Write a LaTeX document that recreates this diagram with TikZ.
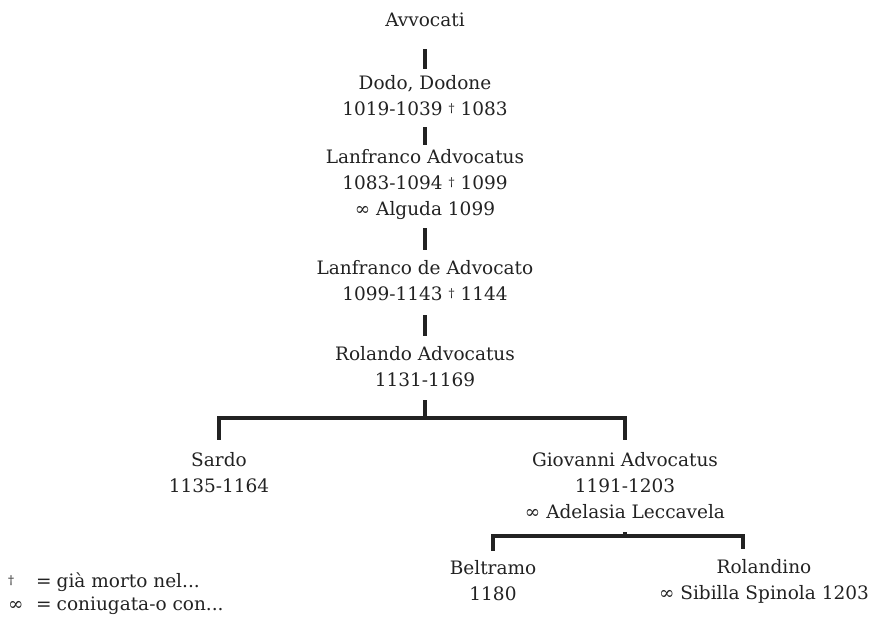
\documentclass[tikz,border=0pt]{standalone}
\usepackage{fontspec}
\setmainfont{DejaVu Serif}
\newcommand{\dg}{\raisebox{3.5pt}{\fontsize{12}{12}\selectfont †}}
\definecolor{ink}{HTML}{222222}
\begin{document}
\begin{tikzpicture}[x=1pt,y=-1pt,
  person/.style={align=center,inner sep=0pt,text=ink,font=\fontsize{18.5}{26}\selectfont},
  link/.style={draw=ink,line width=3.1pt},
  legend/.style={anchor=west,align=left,inner sep=0pt,text=ink,font=\fontsize{18.5}{23}\selectfont}]
\useasboundingbox (0,0) rectangle (869,618);
\node[person] (avv) at (425,20) {Avvocati};
\node[person] (dodo) at (425,96) {Dodo, Dodone\\1019-1039 \dg{} 1083};
\node[person] (lan1) at (425,185) {Lanfranco Advocatus\\1083-1094 \dg{} 1099\\∞ Alguda 1099};
\node[person] (lan2) at (425,281) {Lanfranco de Advocato\\1099-1143 \dg{} 1144};
\node[person] (rol) at (425,367) {Rolando Advocatus\\1131-1169};
\node[person] (sardo) at (219,473) {Sardo\\1135-1164};
\node[person] (giov) at (625,486) {Giovanni Advocatus\\1191-1203\\∞ Adelasia Leccavela};
\node[person] (belt) at (493,581) {Beltramo\\1180};
\node[person] (rold) at (764,581) {Rolandino\\∞ Sibilla Spinola 1203};
\node[legend] (leg) at (8,594) {\makebox[28pt][l]{\dg}=\hspace{5pt}già morto nel...\\\makebox[28pt][l]{∞}=\hspace{5pt}coniugata-o con...};
\coordinate (j1) at (425,418);
\coordinate (j2) at (625,536);
\coordinate (j2r) at (743,536);
\coordinate (e2r) at (743,549);
\draw[link,shorten <=22pt,shorten >=7pt] (avv.south) -- (dodo.north);
\draw[link,shorten <=11pt,shorten >=5pt] (dodo.south) -- (lan1.north);
\draw[link,shorten <=8pt,shorten >=11pt] (lan1.south) -- (lan2.north);
\draw[link,shorten <=14pt,shorten >=11pt] (lan2.south) -- (rol.north);
\draw[link,shorten <=13pt] (rol.south) -- (j1);
\draw[link,shorten <=13pt] (sardo.north) |- (j1) -| ([yshift=13pt]giov.north);
\draw[link,shorten <=13pt] (giov.south) -- (j2);
\draw[link] (belt.north) ++(0,-10) |- (j2) -- (j2r) -- (e2r);
\end{tikzpicture}
\end{document}
